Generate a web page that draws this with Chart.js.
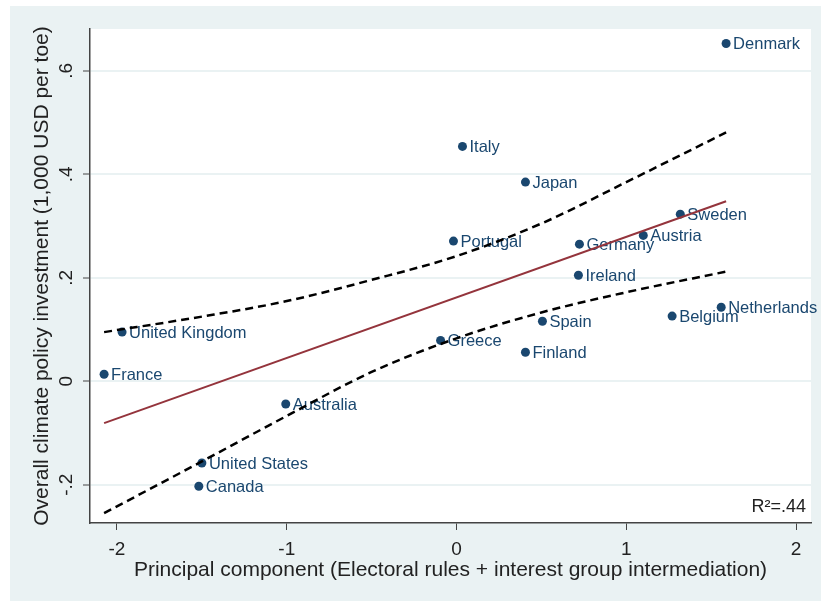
<!DOCTYPE html>
<html>
<head>
    <title>Climate policy investment</title>
    <script src="https://cdn.jsdelivr.net/npm/chart.js"></script>
    <style>
        body { margin: 0; background: #fff; }
    </style>
</head>
<body>
    <canvas id="investChart" width="821" height="601"></canvas>

    <script>
        // values
        const countries = ['Denmark', 'Italy', 'Japan', 'Sweden', 'Austria', 'Portugal', 'Germany', 'Ireland',
            'Netherlands', 'Belgium', 'Spain', 'Greece', 'Finland', 'United Kingdom', 'France', 'Australia',
            'United States', 'Canada'];
        const pcScores = [1.588, 0.035, 0.406, 1.318, 1.10, -0.018, 0.724, 0.718,
            1.559, 1.27, 0.506, -0.094, 0.406, -1.97, -2.076, -1.006,
            -1.50, -1.518];
        const investment = [0.653, 0.454, 0.385, 0.323, 0.282, 0.271, 0.265, 0.205,
            0.143, 0.126, 0.116, 0.079, 0.056, 0.095, 0.0135, -0.044,
            -0.158, -0.203];

        // linear fit and its confidence band
        const fitX = [-2.076, 1.588];
        const fitY = [-0.081, 0.348];

        const ciX = [-2.076, -1.5, -1, -0.5, 0, 0.5, 1, 1.588];
        const ciUpper = [0.095, 0.125, 0.155, 0.196, 0.242, 0.305, 0.385, 0.481];
        const ciLower = [-0.255, -0.155, -0.067, 0.018, 0.083, 0.133, 0.172, 0.212];

        const xTicks = [-2, -1, 0, 1, 2];
        const yTicks = [-0.2, 0, 0.2, 0.4, 0.6];
        const yTickLabels = ['-.2', '0', '.2', '.4', '.6'];
        const rSquared = 'R\u00b2=.44';

        const navy = '#1a476f';
        const bgColor = '#eaf2f3';
        const fontFamily = '"Liberation Sans", Arial, sans-serif';

        const toPoints = (xs, ys) => xs.map((x, i) => ({ x: x, y: ys[i] }));

        const background = {
            id: 'background',
            beforeDraw(chart) {
                const ctx = chart.ctx;
                ctx.save();
                ctx.fillStyle = '#fff';
                ctx.fillRect(0, 0, chart.width, chart.height);
                ctx.fillStyle = bgColor;
                ctx.fillRect(10, 6, chart.width - 10, chart.height - 6);
                const a = chart.chartArea;
                ctx.fillStyle = '#fff';
                ctx.fillRect(a.left, a.top, a.right - a.left, a.bottom - a.top);
                ctx.restore();
            }
        };

        const pointLabels = {
            id: 'pointLabels',
            afterDatasetDraw(chart, args) {
                if (args.index !== 0) return;
                const ctx = chart.ctx;
                ctx.save();
                ctx.font = '16.5px ' + fontFamily;
                ctx.fillStyle = navy;
                ctx.textAlign = 'left';
                ctx.textBaseline = 'middle';
                args.meta.data.forEach((pt, i) => {
                    ctx.fillText(countries[i], pt.x + 7, pt.y + 1);
                });
                ctx.restore();
            },
            afterDraw(chart) {
                const ctx = chart.ctx;
                const a = chart.chartArea;
                ctx.save();
                ctx.font = '18px ' + fontFamily;
                ctx.fillStyle = '#222';
                ctx.textAlign = 'right';
                ctx.textBaseline = 'middle';
                ctx.fillText(rSquared, a.right - 5, a.bottom - 16);
                ctx.restore();
            }
        };

        const ctx = document.getElementById('investChart').getContext('2d');
        new Chart(ctx, {
            data: {
                datasets: [{
                    type: 'scatter',
                    data: toPoints(pcScores, investment),
                    backgroundColor: navy,
                    borderWidth: 0,
                    pointRadius: 4.5,
                    order: 3
                }, {
                    type: 'line',
                    data: toPoints(ciX, ciUpper),
                    borderColor: '#000',
                    borderWidth: 2.5,
                    borderDash: [8, 5],
                    pointRadius: 0,
                    fill: false,
                    cubicInterpolationMode: 'monotone',
                    order: 1
                }, {
                    type: 'line',
                    data: toPoints(ciX, ciLower),
                    borderColor: '#000',
                    borderWidth: 2.5,
                    borderDash: [8, 5],
                    pointRadius: 0,
                    fill: false,
                    cubicInterpolationMode: 'monotone',
                    order: 1
                }, {
                    type: 'line',
                    data: toPoints(fitX, fitY),
                    borderColor: '#94343c',
                    borderWidth: 2,
                    pointRadius: 0,
                    fill: false,
                    order: 0
                }]
            },
            options: {
                responsive: false,
                animation: false,
                layout: { padding: { left: 0, top: 29, right: 10, bottom: 0 } },
                plugins: {
                    legend: { display: false },
                    tooltip: { enabled: false }
                },
                scales: {
                    x: {
                        type: 'linear',
                        min: -2.159,
                        max: 2.088,
                        afterFit: (scale) => { scale.height = 78; },
                        afterBuildTicks: (scale) => { scale.ticks = xTicks.map(v => ({ value: v })); },
                        border: { display: true, color: '#444', width: 1.5 },
                        grid: { display: true, drawOnChartArea: false, tickLength: 7, tickColor: '#444' },
                        ticks: {
                            padding: 8,
                            color: '#222',
                            font: { family: fontFamily, size: 19 },
                            callback: (v) => String(v)
                        },
                        title: {
                            display: true,
                            text: 'Principal component (Electoral rules + interest group intermediation)',
                            color: '#222',
                            font: { family: fontFamily, size: 21 },
                            padding: { top: 0, bottom: 18 }
                        }
                    },
                    y: {
                        type: 'linear',
                        min: -0.274,
                        max: 0.681,
                        afterFit: (scale) => { scale.width = 90; },
                        afterBuildTicks: (scale) => { scale.ticks = yTicks.map(v => ({ value: v })); },
                        border: { display: true, color: '#444', width: 1.5 },
                        grid: { color: bgColor, lineWidth: 2, tickLength: 7, tickColor: '#444', tickWidth: 1 },
                        ticks: {
                            minRotation: 90,
                            maxRotation: 90,
                            crossAlign: 'center',
                            padding: 5,
                            color: '#222',
                            font: { family: fontFamily, size: 19 },
                            callback: (v) => yTickLabels[yTicks.indexOf(v)]
                        },
                        title: {
                            display: true,
                            text: 'Overall climate policy investment (1,000 USD per toe)',
                            color: '#222',
                            font: { family: fontFamily, size: 21 },
                            padding: { top: 30, bottom: 0 }
                        }
                    }
                }
            },
            plugins: [background, pointLabels]
        });
    </script>
</body>
</html>
